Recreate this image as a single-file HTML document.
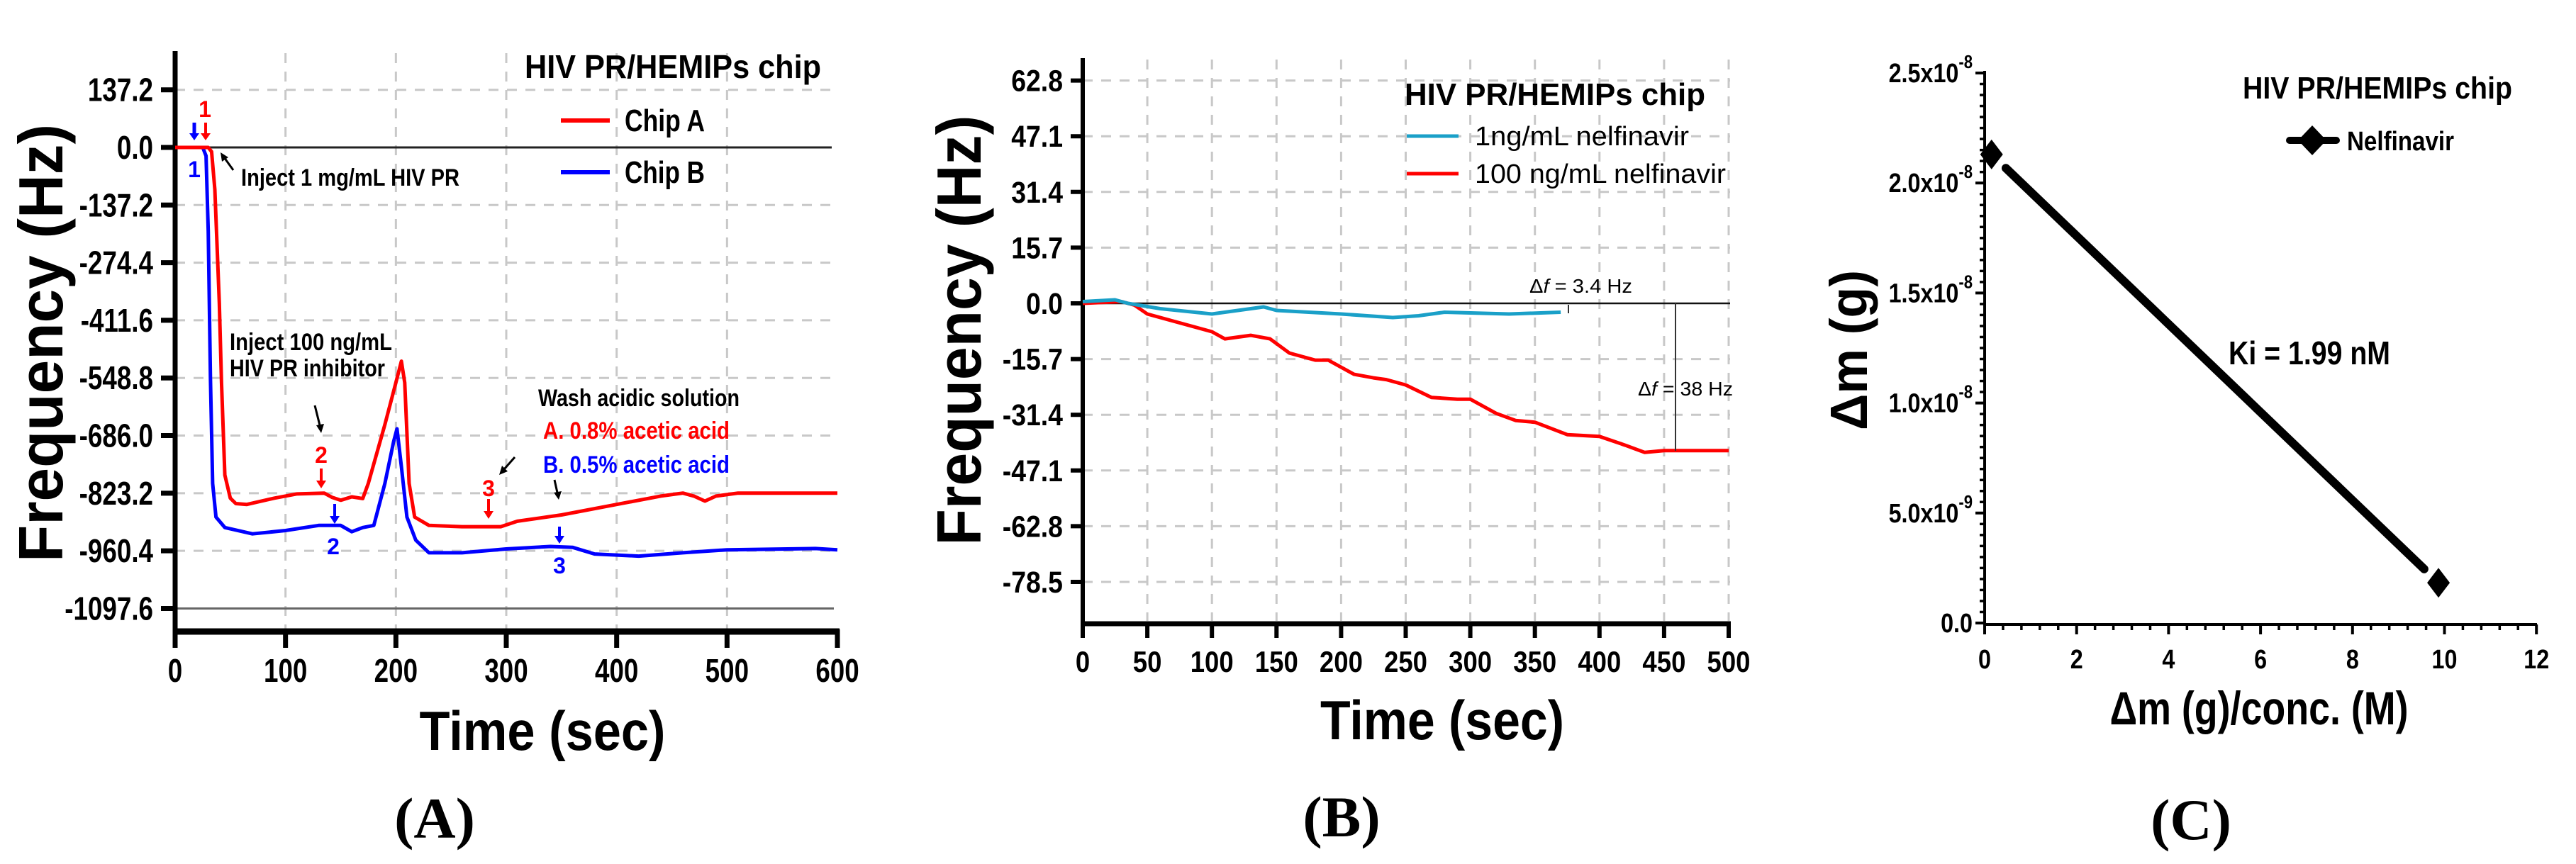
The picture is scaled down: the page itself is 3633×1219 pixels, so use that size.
<!DOCTYPE html>
<html><head><meta charset="utf-8"><style>
html,body{margin:0;padding:0;background:#fff;}
svg{display:block;font-family:"Liberation Sans",Arial,sans-serif;}
</style></head><body>
<svg id="fig" width="3633" height="1219" viewBox="0 0 3633 1219" xmlns="http://www.w3.org/2000/svg">
<g id="pa"></g>
<g id="pb"></g>
<g id="pc"></g>

<!-- Panel A static text -->
<text transform="translate(88,484) rotate(-90)" text-anchor="middle" font-weight="bold" font-size="88" textLength="618" lengthAdjust="spacingAndGlyphs">Frequency (Hz)</text>
<text x="765" y="1058" text-anchor="middle" font-weight="bold" font-size="78" textLength="347" lengthAdjust="spacingAndGlyphs">Time (sec)</text>
<text x="613" y="1182" text-anchor="middle" font-family="Liberation Serif,serif" font-weight="bold" font-size="82">(A)</text>
<text x="740" y="110" font-weight="bold" font-size="46" textLength="418" lengthAdjust="spacingAndGlyphs">HIV PR/HEMIPs chip</text>
<line x1="791" y1="170" x2="860" y2="170" stroke="#ff0000" stroke-width="6"/>
<text x="881" y="185" font-weight="bold" font-size="44" textLength="113" lengthAdjust="spacingAndGlyphs">Chip A</text>
<line x1="791" y1="243" x2="860" y2="243" stroke="#0000ff" stroke-width="6"/>
<text x="881" y="258" font-weight="bold" font-size="44" textLength="113" lengthAdjust="spacingAndGlyphs">Chip B</text>
<text x="340" y="262" font-weight="bold" font-size="34" textLength="308" lengthAdjust="spacingAndGlyphs">Inject 1 mg/mL HIV PR</text>
<text x="324" y="494" font-weight="bold" font-size="34" textLength="229" lengthAdjust="spacingAndGlyphs">Inject 100 ng/mL</text>
<text x="324" y="531" font-weight="bold" font-size="34" textLength="219" lengthAdjust="spacingAndGlyphs">HIV PR inhibitor</text>
<text x="759" y="573" font-weight="bold" font-size="34" textLength="284" lengthAdjust="spacingAndGlyphs">Wash acidic solution</text>
<text x="766" y="619" fill="#ff0000" font-weight="bold" font-size="34" textLength="263" lengthAdjust="spacingAndGlyphs">A. 0.8% acetic acid</text>
<text x="766" y="667" fill="#0000ff" font-weight="bold" font-size="34" textLength="263" lengthAdjust="spacingAndGlyphs">B. 0.5% acetic acid</text>
<g font-weight="bold" font-size="32" text-anchor="middle">
 <text x="289" y="165" fill="#ff0000">1</text>
 <line x1="290" y1="173" x2="290" y2="192" stroke="#ff0000" stroke-width="4"/><path d="M283,188 L297,188 L290,198 Z" fill="#ff0000"/>
 <line x1="274" y1="173" x2="274" y2="192" stroke="#0000ff" stroke-width="5"/><path d="M267,188 L281,188 L274,198 Z" fill="#0000ff"/>
 <text x="274" y="250" fill="#0000ff">1</text>
 <line x1="329" y1="240" x2="316" y2="222" stroke="#000" stroke-width="3"/><path d="M311,215 L322,222 L313,228 Z" fill="#000"/>
 <line x1="444" y1="572" x2="451" y2="600" stroke="#000" stroke-width="3"/><path d="M446,600 L457,598 L453,611 Z" fill="#000"/>
 <text x="453" y="653" fill="#ff0000">2</text>
 <line x1="453" y1="661" x2="453" y2="680" stroke="#ff0000" stroke-width="4"/><path d="M446,678 L460,678 L453,689 Z" fill="#ff0000"/>
 <line x1="472" y1="711" x2="472" y2="730" stroke="#0000ff" stroke-width="4"/><path d="M465,728 L479,728 L472,739 Z" fill="#0000ff"/>
 <text x="470" y="782" fill="#0000ff">2</text>
 <text x="689" y="700" fill="#ff0000">3</text>
 <line x1="689" y1="704" x2="689" y2="723" stroke="#ff0000" stroke-width="4"/><path d="M682,721 L696,721 L689,732 Z" fill="#ff0000"/>
 <line x1="726" y1="645" x2="711" y2="662" stroke="#000" stroke-width="3"/><path d="M704,670 L708,657 L716,665 Z" fill="#000"/>
 <line x1="782" y1="677" x2="786" y2="695" stroke="#000" stroke-width="3"/><path d="M781,695 L792,693 L788,705 Z" fill="#000"/>
 <line x1="789" y1="743" x2="789" y2="758" stroke="#0000ff" stroke-width="4"/><path d="M782,756 L796,756 L789,767 Z" fill="#0000ff"/>
 <text x="789" y="809" fill="#0000ff">3</text>
</g>

<!-- Panel B static text -->
<text transform="translate(1383,466) rotate(-90)" text-anchor="middle" font-weight="bold" font-size="88" textLength="607" lengthAdjust="spacingAndGlyphs">Frequency (Hz)</text>
<text x="2034" y="1043" text-anchor="middle" font-weight="bold" font-size="78" textLength="344" lengthAdjust="spacingAndGlyphs">Time (sec)</text>
<text x="1892" y="1180" text-anchor="middle" font-family="Liberation Serif,serif" font-weight="bold" font-size="82">(B)</text>
<text x="1981" y="148" font-weight="bold" font-size="44" textLength="424" lengthAdjust="spacingAndGlyphs">HIV PR/HEMIPs chip</text>
<line x1="1984" y1="192" x2="2057" y2="192" stroke="#1aa0c8" stroke-width="5"/>
<text x="2080" y="205" font-size="38" textLength="302" lengthAdjust="spacingAndGlyphs">1ng/mL nelfinavir</text>
<line x1="1984" y1="245" x2="2057" y2="245" stroke="#ff0000" stroke-width="5"/>
<text x="2080" y="258" font-size="38" textLength="354" lengthAdjust="spacingAndGlyphs">100 ng/mL nelfinavir</text>
<text x="2157" y="413" font-size="28" textLength="145" lengthAdjust="spacingAndGlyphs">Δ<tspan font-style="italic">f</tspan> = 3.4 Hz</text>
<text x="2310" y="558" font-size="28" textLength="134" lengthAdjust="spacingAndGlyphs">Δ<tspan font-style="italic">f</tspan> = 38 Hz</text>
<line x1="2363" y1="428" x2="2363" y2="636" stroke="#333" stroke-width="2"/>
<line x1="2212" y1="430" x2="2212" y2="442" stroke="#333" stroke-width="2"/>

<!-- Panel C static text -->
<text transform="translate(2633,494) rotate(-90)" text-anchor="middle" font-weight="bold" font-size="74" textLength="226" lengthAdjust="spacingAndGlyphs">Δm  (g)</text>
<text x="3186" y="1022" text-anchor="middle" font-weight="bold" font-size="66" textLength="421" lengthAdjust="spacingAndGlyphs">Δm (g)/conc. (M)</text>
<text x="3090" y="1184" text-anchor="middle" font-family="Liberation Serif,serif" font-weight="bold" font-size="82">(C)</text>
<text x="3163" y="139" font-weight="bold" font-size="44" textLength="380" lengthAdjust="spacingAndGlyphs">HIV PR/HEMIPs chip</text>
<line x1="3229" y1="198" x2="3295" y2="198" stroke="#000" stroke-width="10" stroke-linecap="round"/>
<path d="M3261,177 L3281,198 L3261,219 L3241,198 Z" fill="#000"/>
<text x="3310" y="212" font-weight="bold" font-size="38" textLength="151" lengthAdjust="spacingAndGlyphs">Nelfinavir</text>
<text x="3143" y="514" font-weight="bold" font-size="46" textLength="228" lengthAdjust="spacingAndGlyphs">Ki = 1.99 nM</text>
</svg>
<script>
const NS='http://www.w3.org/2000/svg';
// ---------- Panel A data ----------
const aXTicks=[0,100,200,300,400,500,600];
const aYTicks=[137.2,0,-137.2,-274.4,-411.6,-548.8,-686.0,-823.2,-960.4,-1097.6];
const aTimeA=[0,30,33,36,40,42,45,50,55,65,90,110,135,142,150,160,170,175,190,200,205,208,212,217,230,260,295,310,350,400,440,460,470,480,490,510,600];
const aFreqA=[0,0,-10,-100,-370,-560,-780,-835,-848,-850,-835,-825,-823,-833,-840,-832,-836,-800,-660,-560,-509,-560,-800,-880,-900,-903,-903,-890,-875,-850,-830,-823,-830,-842,-830,-823,-823];
const aTimeB=[0,25,28,30,32,34,37,45,70,100,130,150,160,170,180,190,198,201,205,210,218,230,260,300,340,360,380,420,460,500,580,600];
const aFreqB=[0,0,-20,-200,-550,-800,-880,-905,-920,-912,-900,-900,-915,-905,-900,-800,-700,-670,-760,-880,-935,-965,-965,-956,-950,-952,-968,-973,-965,-958,-955,-958];
// ---------- Panel B data ----------
const bXTicks=[0,50,100,150,200,250,300,350,400,450,500];
const bYTicks=[62.8,47.1,31.4,15.7,0,-15.7,-31.4,-47.1,-62.8,-78.5];
const bTime1=[0,25,35,60,100,140,150,200,240,260,280,330,370];
const bFreq1=[0.5,1,0,-1.5,-3,-1,-2,-3,-4,-3.5,-2.5,-3,-2.5];
const bTime100=[0,30,40,50,70,100,110,130,145,160,180,190,210,225,235,250,270,290,300,320,335,350,375,400,420,435,450,500];
const bFreq100=[0,0.5,-0.5,-3,-5,-8,-10,-9,-10,-14,-16,-16,-20,-21,-21.5,-23,-26.5,-27,-27,-31,-33,-33.5,-37,-37.5,-40,-42,-41.5,-41.5];
// ---------- Panel C data ----------
const cXTicks=[0,2,4,6,8,10,12];
const cYTicks=[0,5e-9,1e-8,1.5e-8,2e-8,2.5e-8];
const cYLabels=['0.0','5.0x10','1.0x10','1.5x10','2.0x10','2.5x10'];
const cYExp=['','-9','-8','-8','-8','-8'];
const cX=[0.15,9.87];
const cY=[2.13e-8,1.83e-9];

const xA=t=>247+t*1.5567, yA=f=>208-f*0.5926;
const xB=t=>1527+t*1.822, yB=f=>428-f*5.006;
const xC=v=>2799+v*64.85, yC=v=>879-v/5e-9*155.2;

function mk(parent,tag,attrs){const e=document.createElementNS(NS,tag);for(const k in attrs)e.setAttribute(k,attrs[k]);parent.appendChild(e);return e;}
function line(p,x1,y1,x2,y2,st,w,dash){return mk(p,'line',{x1,y1,x2,y2,stroke:st,'stroke-width':w,'stroke-dasharray':dash||'none'});}
function label(p,x,y,s,size,anchor,sx){const t=mk(p,'text',{transform:`translate(${x},${y}) scale(${sx},1)`,'text-anchor':anchor,'font-weight':'bold','font-size':size});t.textContent=s;return t;}
function poly(p,xs,ys,fx,fy,col,w){const pts=xs.map((v,i)=>fx(v).toFixed(1)+','+fy(ys[i]).toFixed(1)).join(' ');return mk(p,'polyline',{points:pts,fill:'none',stroke:col,'stroke-width':w,'stroke-linejoin':'round'});}

// Panel A
const pa=document.getElementById('pa');
aXTicks.forEach(t=>{if(t>0&&t<600){const g=line(pa,xA(t),75,xA(t),887,'#c8c8c8',3,'14 12');

}});
aYTicks.forEach(v=>{let g;
if(v===0) g=line(pa,247,yA(v),1173,yA(v),'#222',3);
else if(v===-1097.6) g=line(pa,247,yA(v),1176,yA(v),'#666',3);
else g=line(pa,247,yA(v),1173,yA(v),'#c8c8c8',3,'14 12');


const tk=line(pa,227,yA(v),247,yA(v),'#000',7);


const l=label(pa,216,yA(v)+16,v.toFixed(1),46,'end',0.8);

});
aXTicks.forEach(t=>{const tk=line(pa,xA(t),888,xA(t),914,'#000',7);


const l=label(pa,xA(t),962,String(t),46,'middle',0.8);

});
let ax=line(pa,247,72,247,895,'#000',7);


ax=line(pa,244,891,1184,891,'#000',9);


let s=poly(pa,aTimeB,aFreqB,xA,yA,'#0000ff',5);


s=poly(pa,aTimeA,aFreqA,xA,yA,'#ff0000',5);



// Panel B
const pb=document.getElementById('pb');
bXTicks.forEach(t=>{if(t>0){const g=line(pb,xB(t),84,xB(t),876,'#c8c8c8',3,'14 12');

}});
bYTicks.forEach(v=>{let g;
if(v===0) g=line(pb,1527,yB(v),2440,yB(v),'#111',2.5);
else g=line(pb,1527,yB(v),2440,yB(v),'#c8c8c8',3,'14 12');


const tk=line(pb,1510,yB(v),1527,yB(v),'#000',6);


const l=label(pb,1499,yB(v)+15,v.toFixed(1),43,'end',0.87);

});
bXTicks.forEach(t=>{const tk=line(pb,xB(t),878,xB(t),900,'#000',6);


const l=label(pb,xB(t),948,String(t),42,'middle',0.87);

});
ax=line(pb,1527,82,1527,883,'#000',6);


ax=line(pb,1524,880,2441,880,'#000',7);


s=poly(pb,bTime100,bFreq100,xB,yB,'#ff0000',5);


s=poly(pb,bTime1,bFreq1,xB,yB,'#1aa0c8',5);



// Panel C
const pc=document.getElementById('pc');
for(let i=0;i<=50;i++){const v=i*5e-10;const big=i%10===0;
const tk=line(pc,big?2786:2792,yC(v),2799,yC(v),'#000',big?4:3.5);

}
for(let i=0;i<=30;i++){const v=i*0.4;const big=i%5===0;
const tk=line(pc,xC(v),881,xC(v),big?895:889,'#000',big?4:3.5);

}
cYTicks.forEach((v,i)=>{
const t=mk(pc,'text',{transform:`translate(2782,${yC(v)+13}) scale(0.85,1)`,'text-anchor':'end','font-weight':'bold','font-size':38});


t.textContent=cYLabels[i];
if(cYExp[i]){const sp=mk(t,'tspan',{dy:-20,'font-size':26});sp.textContent=cYExp[i];}});
cXTicks.forEach(v=>{const l=label(pc,xC(v),943,String(v),38,'middle',0.85);

});
ax=line(pc,2799,100,2799,883,'#000',4);


ax=line(pc,2797,881,3578,881,'#000',4);


// fit line with gaps near markers
const x0=xC(cX[0]),y0=yC(cY[0]),x1=xC(cX[1]),y1=yC(cY[1]);
const L=Math.hypot(x1-x0,y1-y0),ux=(x1-x0)/L,uy=(y1-y0)/L;
s=line(pc,x0+ux*28,y0+uy*28,x1-ux*28,y1-uy*28,'#000',12);


s.setAttribute('stroke-linecap','round');
cX.forEach((v,i)=>{const cx=xC(v),cy=yC(cY[i]);
const d=mk(pc,'path',{d:`M${cx},${cy-21} L${cx+16},${cy} L${cx},${cy+21} L${cx-16},${cy} Z`,fill:'#000'});

});
</script>
</body></html>
